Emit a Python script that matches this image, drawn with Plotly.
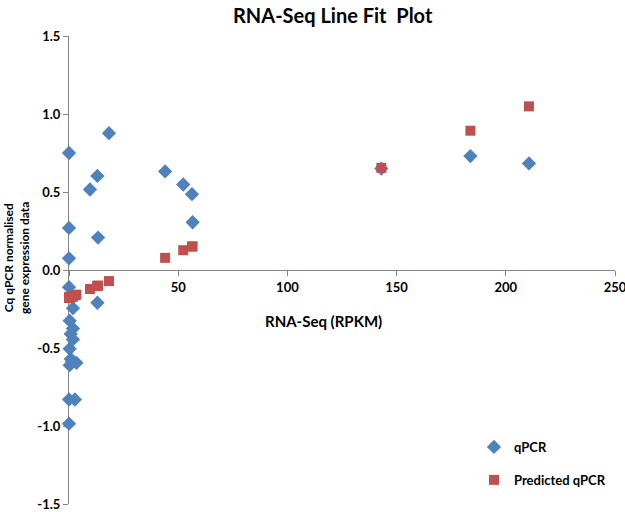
import plotly.graph_objects as go

# RNA-Seq (RPKM) values
rpkm = [0, 0, 0, 0, 1.8, 0.3, 1.8, 0.8, 1.8, 0.3, 0.8, 3.4, 0.3, 1.5, 0, 2.7, 0,
        9.6, 13.0, 13.3, 18.3, 13.0, 44.0, 52.3, 56.3, 56.6, 143.0, 183.8, 210.6]
# qPCR normalised expression
qpcr = [0.75, 0.27, 0.075, -0.11, -0.245, -0.325, -0.375, -0.41, -0.445, -0.505, -0.57, -0.595,
        -0.61, -0.585, -0.83, -0.83, -0.985,
        0.516, 0.603, 0.208, 0.877, -0.21, 0.632, 0.548, 0.486, 0.306, 0.65, 0.73, 0.683]
# Predicted qPCR (line fit)
predicted = [-0.178, -0.178, -0.178, -0.178, -0.168, -0.176, -0.168, -0.173, -0.168, -0.176,
             -0.173, -0.158, -0.176, -0.169, -0.178, -0.162, -0.178,
             -0.122, -0.102, -0.100, -0.071, -0.102, 0.078, 0.127, 0.150, 0.152, 0.655, 0.893, 1.049]

y_ticks = [-1.5, -1.0, -0.5, 0.0, 0.5, 1.0, 1.5]
y_tick_text = ["-1.5", "-1.0", "-0.5", "0.0", "0.5", "1.0", "1.5"]
x_ticks = [0, 50, 100, 150, 200, 250]

FONT = "Lato"
AXIS_COLOR = "#868686"
T, B, L, R = 36, 8, 69, 10
PH = 512 - T - B
PW = 625 - L - R

fig = go.Figure()
fig.add_trace(go.Scatter(
    x=rpkm, y=qpcr, mode="markers", name="qPCR", legendgroup="a",
    marker=dict(symbol="diamond", size=11, color="#4F81BD"),
    cliponaxis=False,
))
fig.add_trace(go.Scatter(
    x=rpkm, y=predicted, mode="markers", name="Predicted qPCR", legendgroup="b",
    marker=dict(symbol="square", size=10, color="#C0504D"),
    cliponaxis=False,
))

fig.update_layout(
    width=625, height=512,
    margin=dict(l=L, r=R, t=T, b=B),
    paper_bgcolor="white", plot_bgcolor="white",
    font=dict(family=FONT, color="black"),
    showlegend=True,
    legend=dict(x=(474 - L) / PW, y=(512 - B - 432) / PH, xanchor="left", yanchor="top",
                font=dict(family=FONT, size=13, weight="bold", color="black"),
                tracegroupgap=13, bgcolor="rgba(0,0,0,0)"),
    xaxis=dict(range=[0, 250], tickvals=x_ticks, showgrid=False, zeroline=False,
               showline=True, linecolor=AXIS_COLOR, linewidth=1,
               ticks="outside", ticklen=5, tickcolor=AXIS_COLOR,
               tickfont=dict(family=FONT, size=13, weight="bold", color="black"),
               ticklabeloverflow="allow", automargin=False,
               anchor="free", position=0.5, layer="below traces"),
    yaxis=dict(range=[-1.5, 1.5], tickvals=y_ticks, ticktext=y_tick_text,
               showgrid=False, zeroline=False,
               showline=True, linecolor=AXIS_COLOR, linewidth=1,
               ticks="outside", ticklen=5, tickcolor=AXIS_COLOR,
               tickfont=dict(family=FONT, size=13, weight="bold", color="black"),
               ticklabeloverflow="allow", automargin=False,
               layer="below traces"),
    annotations=[
        dict(text="<b>RNA-Seq Line Fit  Plot</b>", xref="paper", yref="paper",
             x=(333 - L) / PW, y=1 + (T - 15) / PH, showarrow=False,
             font=dict(family=FONT, size=20, color="black"), xanchor="center", yanchor="middle"),
        dict(text="<b>RNA-Seq (RPKM)</b>", xref="paper", yref="paper",
             x=(323 - L) / PW, y=(512 - B - 321) / PH, showarrow=False,
             font=dict(family=FONT, size=15, color="black"), xanchor="center", yanchor="middle"),
        dict(text="<b>Cq qPCR normalised<br>gene expression data</b>", xref="paper", yref="paper",
             x=(16 - L) / PW, y=(512 - B - 258) / PH, showarrow=False, textangle=-90,
             font=dict(family=FONT, size=12, color="black"), xanchor="center", yanchor="middle"),
    ],
)

fig.write_html("out.html", config={"displayModeBar": False},
               post_script="document.body.style.margin='0';")
